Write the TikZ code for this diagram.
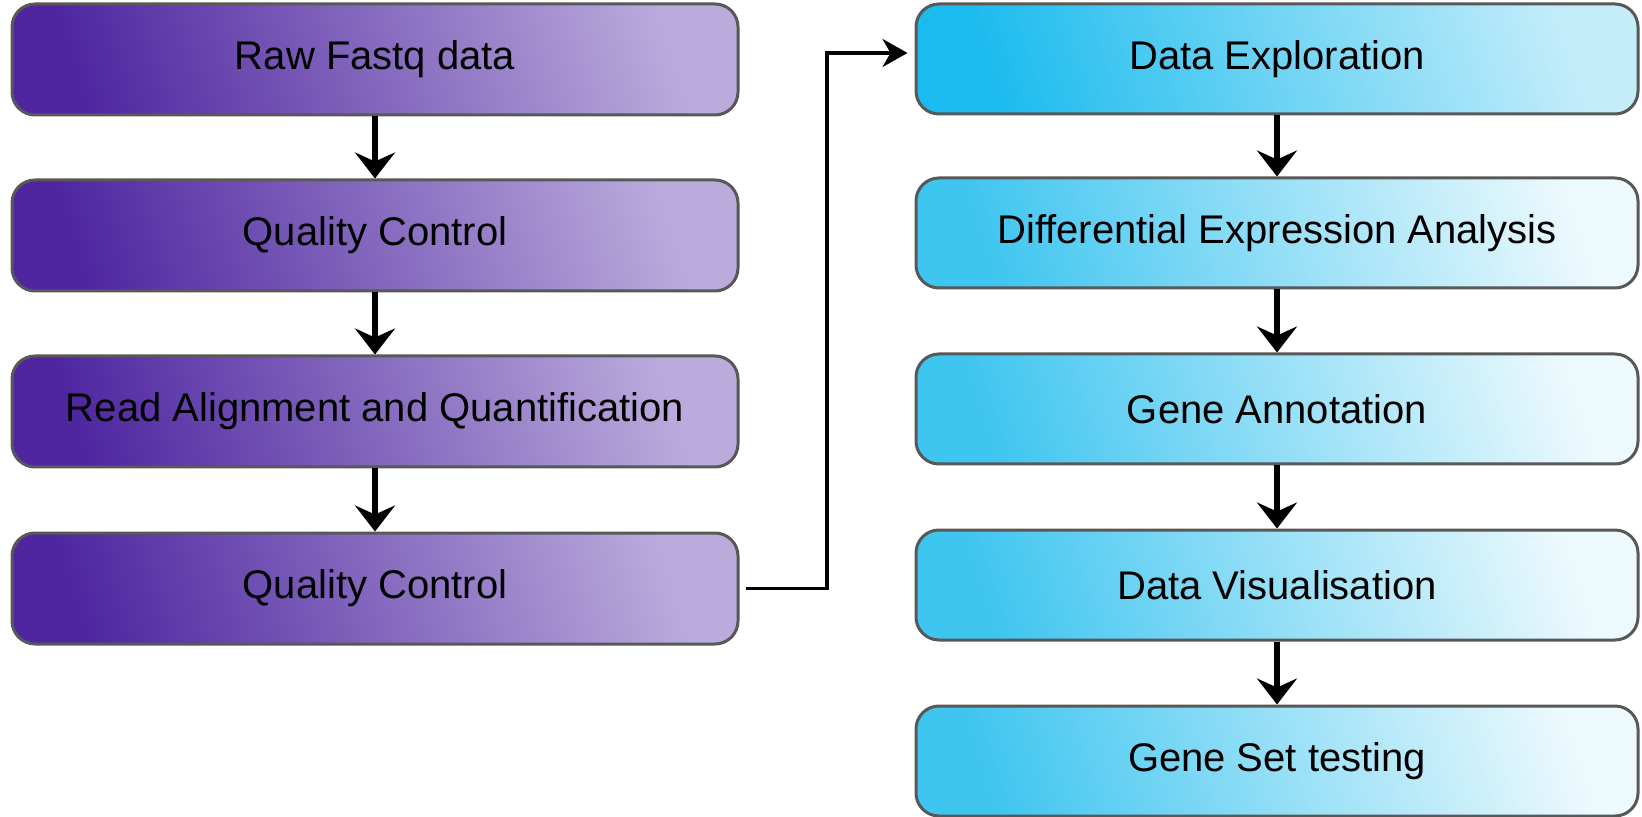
\documentclass[tikz,border=0pt]{standalone}
\usepackage{fontspec}
\setmainfont{Liberation Sans}
\usetikzlibrary{arrows.meta,calc}
\definecolor{pdark}{RGB}{79,38,160}
\definecolor{plight}{RGB}{186,171,220}
\definecolor{cdarkA}{RGB}{26,187,238}
\definecolor{clightA}{RGB}{196,237,250}
\definecolor{cdark}{RGB}{62,197,240}
\definecolor{clight}{RGB}{236,249,253}
\definecolor{edge}{RGB}{88,88,88}
\tikzset{
  boxbase/.style={rounded corners=11.5pt, draw=edge, line width=1.5pt,
    font=\fontsize{20pt}{24pt}\selectfont, text=black, inner sep=0pt},
  lbox/.style={boxbase, minimum width=363pt, minimum height=55.5pt,
    bottom color=pdark, top color=plight, shading angle=-72},
  rboxA/.style={boxbase, minimum width=361pt, minimum height=55pt,
    bottom color=cdarkA, top color=clightA, shading angle=-72},
  rbox/.style={boxbase, minimum width=361pt, minimum height=55pt,
    bottom color=cdark, top color=clight, shading angle=-72},
  flow/.style={line width=2.7pt, -{Stealth[length=13pt, width=20pt, inset=4.5pt]}},
  elbow/.style={line width=1.7pt, -{Stealth[length=12.5pt, width=14pt, inset=4pt]}}
}
\begin{document}
\begin{tikzpicture}[x=0.5pt, y=-0.5pt]
\useasboundingbox (0,0) rectangle (1642,817);
% left column
\node[lbox] (raw) at (375,59.5) {Raw Fastq data};
\node[lbox] (qc1) at (375,235.5) {Quality Control};
\node[lbox] (ra)  at (375,411.5) {Read Alignment and Quantification};
\node[lbox] (qc2) at (375,588.5) {Quality Control};
% right column
\node[rboxA] (de) at (1277,59) {Data Exploration};
\node[rbox] (dea) at (1277,233) {Differential Expression Analysis};
\node[rbox] (ga)  at (1277,409) {Gene Annotation};
\node[rbox] (dv)  at (1277,585) {Data Visualisation};
\node[rbox] (gs)  at (1277,761) {Gene Set testing};
% vertical arrows
\draw[flow] (raw.south) -- (qc1.north);
\draw[flow] (qc1.south) -- (ra.north);
\draw[flow] (ra.south) -- (qc2.north);
\draw[flow] (de.south) -- (dea.north);
\draw[flow] (dea.south) -- (ga.north);
\draw[flow] (ga.south) -- (dv.north);
\draw[flow] (dv.south) -- (gs.north);
% elbow connector
\coordinate (cs) at ($(qc2.east)+(6,0)$);
\coordinate (ce) at ($(de.west)+(-7,-6)$);
\draw[elbow] (cs) -- (827,588.5) -- (827,53) -- (ce);
\end{tikzpicture}
\end{document}
